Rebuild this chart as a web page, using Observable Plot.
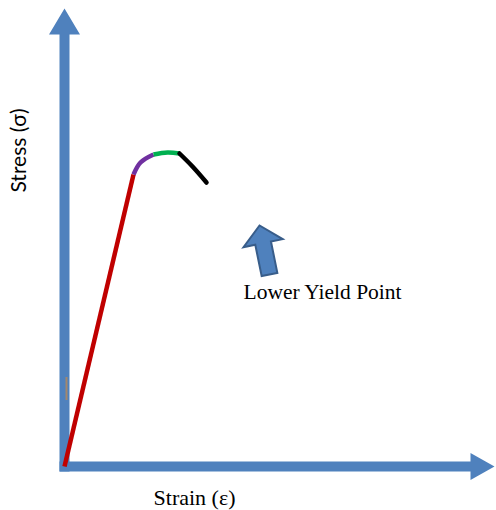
<!DOCTYPE html>
<html>
<head>
<meta charset="utf-8">
<script src="https://cdn.jsdelivr.net/npm/d3@7"></script>
<script src="https://cdn.jsdelivr.net/npm/@observablehq/plot@0.6"></script>
<style>
  html, body { margin: 0; padding: 0; background: #fff; }
  #chart svg { display: block; }
</style>
</head>
<body>
<div id="chart"></div>
<script>
// Schematic stress–strain curve (arbitrary units)
const elasticRegion = [ {strain: 0, stress: 0}, {strain: 69, stress: 292} ];
const upperYieldRegion = [ {strain: 69, stress: 292}, {strain: 76, stress: 304}, {strain: 89, stress: 312} ];
const plateauRegion = [ {strain: 89, stress: 312}, {strain: 103, stress: 314}, {strain: 115, stress: 313} ];
const neckingRegion = [ {strain: 115, stress: 313}, {strain: 128, stress: 300}, {strain: 142, stress: 284} ];

const xLabel = "Strain (\u03B5)";
const yLabel = "Stress (\u03C3)";
const annotationLabel = "Lower Yield Point";

// block arrow shape factory for Plot.vector
function blockArrow(shaftW, headW, headL) {
  return {
    draw(context, l) {
      const b = -(l - headL);
      context.moveTo(-shaftW / 2, 0);
      context.lineTo(-shaftW / 2, b);
      context.lineTo(-headW / 2, b);
      context.lineTo(0, -l);
      context.lineTo(headW / 2, b);
      context.lineTo(shaftW / 2, b);
      context.lineTo(shaftW / 2, 0);
      context.closePath();
    }
  };
}

const axisBlue = "#4f81bd";

const chart = Plot.plot({
  width: 496,
  height: 510,
  margin: 0,
  x: {domain: [0, 430], range: [64, 494], axis: null},
  y: {domain: [0, 458], range: [466, 8], axis: null},
  marks: [
    // y axis arrow
    Plot.vector([{strain: 0, stress: -5}], {
      x: "strain", y: "stress", length: 463, rotate: 0, anchor: "start",
      shape: blockArrow(10, 31, 26), fill: axisBlue, stroke: "none"
    }),
    // x axis arrow
    Plot.vector([{strain: -5, stress: 0}], {
      x: "strain", y: "stress", length: 435, rotate: 90, anchor: "start",
      shape: blockArrow(10, 27, 24), fill: axisBlue, stroke: "none"
    }),
    // small tick on the y axis
    Plot.ruleX([2], {y1: 66, y2: 89, stroke: "#a4876b", strokeWidth: 2}),
    // curve segments
    Plot.line(elasticRegion, {x: "strain", y: "stress", stroke: "#c00000", strokeWidth: 4.5, strokeLinecap: "butt"}),
    Plot.line(upperYieldRegion, {x: "strain", y: "stress", stroke: "#7030a0", strokeWidth: 4.5, curve: "catmull-rom", strokeLinecap: "butt"}),
    Plot.line(plateauRegion, {x: "strain", y: "stress", stroke: "#00b050", strokeWidth: 4.5, curve: "catmull-rom", strokeLinecap: "butt"}),
    Plot.line(neckingRegion, {x: "strain", y: "stress", stroke: "#000000", strokeWidth: 4.5, curve: "catmull-rom", strokeLinecap: "round"}),
    // annotation arrow pointing up to the lower yield point
    Plot.vector([{strain: 205, stress: 192}], {
      x: "strain", y: "stress", length: 50, rotate: -11.5, anchor: "start",
      shape: blockArrow(16, 40, 18), fill: "#4f81bd", stroke: "#385d8a", strokeWidth: 2, strokeLinejoin: "miter"
    }),
    Plot.text([annotationLabel], {
      x: 179, y: 174, text: d => d, textAnchor: "start",
      fontFamily: "Liberation Serif", fontSize: 21.5, fill: "#000"
    }),
    Plot.text([xLabel], {
      x: 130, y: -31, text: d => d, textAnchor: "middle",
      fontFamily: "Liberation Serif", fontSize: 22, fill: "#000"
    }),
    Plot.text([yLabel], {
      x: -45, y: 316, text: d => d, textAnchor: "middle", rotate: -90,
      fontFamily: "Lato", fontSize: 21, fill: "#000"
    })
  ]
});

document.getElementById("chart").appendChild(chart);
</script>
</body>
</html>
